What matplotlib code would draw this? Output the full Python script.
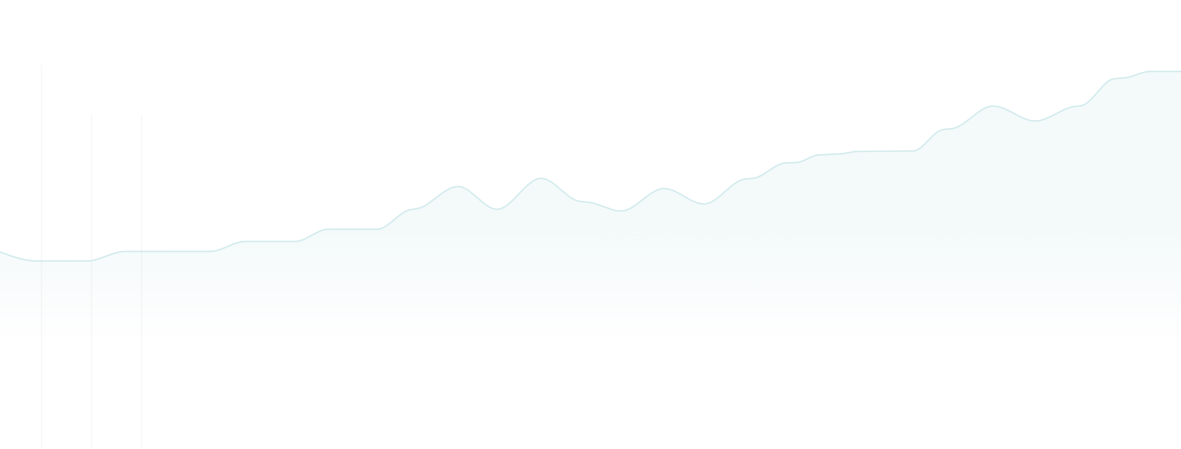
import numpy as np
import matplotlib.pyplot as plt
from matplotlib.colors import to_rgb

# x positions of the samples (chart units along the time axis)
days = [0, 37, 87, 125, 210, 245, 295, 328, 377, 409, 418, 458, 497, 541,
        578, 590, 621, 664, 704, 743, 755, 785, 797, 818, 840, 857, 913,
        942, 953, 993, 1035, 1074, 1082, 1113, 1127, 1150, 1181]
# values (height above baseline)
values = [197, 188, 188, 197.5, 197.5, 207.5, 207.5, 219.7, 219.7, 239,
          240.5, 262.5, 239.7, 270.7, 248, 246.5, 238, 260.5, 245, 269.5,
          271, 286, 286.5, 294, 295, 297.5, 298, 319.2, 320.5, 343, 328,
          342.5, 343.5, 370, 371.5, 377.5, 377.5]

grid_x = [41, 91, 141]
grid_top = [384, 334, 334]

line_color = '#d5ecee'
fill_color = '#8ccbd0'


def monotone(x, y, n=30):
    # monotone cubic (same rule as d3 curveMonotoneX)
    x = np.asarray(x, float)
    y = np.asarray(y, float)
    h = np.diff(x)
    s = np.diff(y) / h
    t = np.zeros(len(x))
    for i in range(1, len(x) - 1):
        s0, s1 = s[i - 1], s[i]
        p = (s0 * h[i] + s1 * h[i - 1]) / (h[i - 1] + h[i])
        t[i] = (np.sign(s0) + np.sign(s1)) * min(abs(s0), abs(s1), 0.5 * abs(p))
    t[0] = (3 * s[0] - t[1]) / 2
    t[-1] = (3 * s[-1] - t[-2]) / 2
    xs, ys = [], []
    for i in range(len(x) - 1):
        u = np.linspace(0, 1, n, endpoint=False)
        d = h[i]
        x0, x3 = x[i], x[i + 1]
        y0, y3 = y[i], y[i + 1]
        x1, x2 = x0 + d / 3, x3 - d / 3
        y1, y2 = y0 + t[i] * d / 3, y3 - t[i + 1] * d / 3
        b = [(1 - u) ** 3, 3 * u * (1 - u) ** 2, 3 * u ** 2 * (1 - u), u ** 3]
        xs.append(b[0] * x0 + b[1] * x1 + b[2] * x2 + b[3] * x3)
        ys.append(b[0] * y0 + b[1] * y1 + b[2] * y2 + b[3] * y3)
    xs.append([x[-1]])
    ys.append([y[-1]])
    return np.concatenate(xs), np.concatenate(ys)


fig = plt.figure(figsize=(11.81, 4.49), dpi=100)
ax = fig.add_axes([0, 0, 1, 1])
ax.set_xlim(0, 1181)
ax.set_ylim(0, 449)
ax.axis('off')

for gx, gt in zip(grid_x, grid_top):
    ax.plot([gx, gx], [0, gt], color='#f7f8f8', lw=1, zorder=0)

cx, cy = monotone(days, values)

poly = ax.fill_between(cx, 0, cy, color='none', lw=0)

# vertical gradient: solid down to ~219, fading out by ~109
hh = np.linspace(0, 449, 450)
alpha = np.clip((hh - 109) / (219 - 109), 0, 1) * 0.095
rgba = np.zeros((len(hh), 1, 4))
rgba[:, 0, :3] = to_rgb(fill_color)
rgba[:, 0, 3] = alpha
im = ax.imshow(rgba, extent=[0, 1181, 0, 449], origin='lower',
               aspect='auto', zorder=1, interpolation='bilinear')
im.set_clip_path(poly.get_paths()[0], transform=ax.transData)

ax.plot(cx, cy, color=line_color, lw=1.1, zorder=2)

fig.savefig('out.png', dpi=100)
